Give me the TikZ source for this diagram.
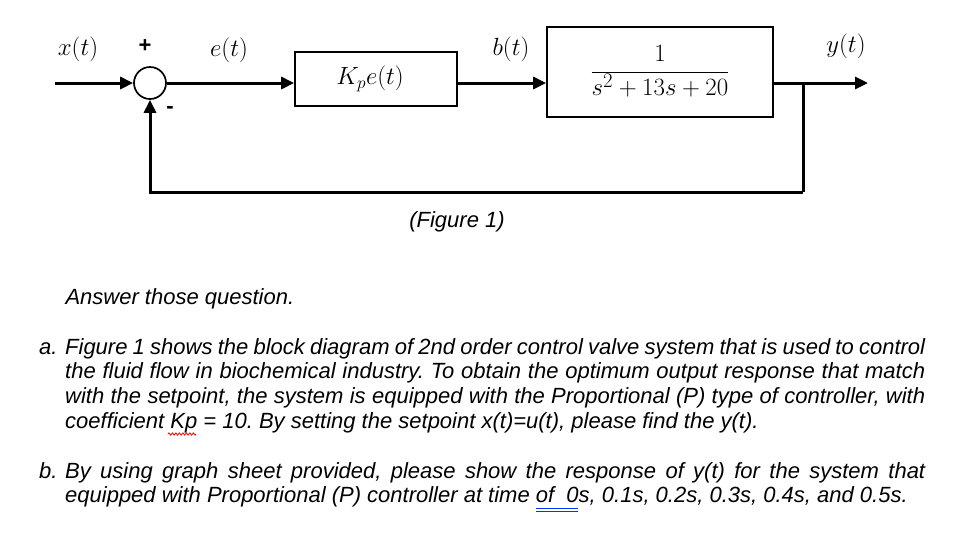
\documentclass[tikz,border=0pt]{standalone}
\usepackage{fontspec}
\setsansfont{Liberation Sans}
\usetikzlibrary{arrows.meta,decorations.pathmorphing}
\begin{document}
\begin{tikzpicture}[x=1pt,y=-1pt,
  sig/.style={line width=3pt,-{Triangle[length=13pt,width=12pt]}},
  wire/.style={line width=3pt},
  blockbox/.style={draw,line width=1.7pt,inner sep=0pt},
  mlabel/.style={font=\fontsize{24}{28}\selectfont},
  body/.style={font=\sffamily\itshape\fontsize{22}{24.7}\selectfont\frenchspacing}]
\useasboundingbox (0,0) rectangle (971,558);
% blocks
\node[draw,circle,line width=1.7pt,minimum size=32pt,inner sep=0pt] (sum) at (150,83) {};
\node[blockbox,minimum width=162pt,minimum height=54pt] (kp) at (376,79) {};
\node[font=\fontsize{25}{28}\selectfont] (kptext) at (370,79) {$K_p e(t)$};
\node[blockbox,minimum width=226pt,minimum height=90pt] (tf) at (660,72) {};
\node[font=\fontsize{28}{32}\selectfont] (tftext) at (660,71) {$\displaystyle\frac{1}{s^2+13s+20}$};
\coordinate (in) at (55,83);
\coordinate (out) at (868,83);
\coordinate (branch) at (803,83);
\coordinate (bot) at (803,192);
% connectors
\draw[sig] (in) -- (sum.west);
\draw[sig] (sum.east) -- (kp.west |- sum.east);
\draw[sig] (kp.east |- sum.east) -- (tf.west |- sum.east);
\draw[sig] (tf.east |- sum.east) -- (out);
\draw[wire] (branch) -- (bot);
\draw[sig] (bot) -- (bot -| sum.south) -- (sum.south);
% labels
\node[mlabel] (xl) at (78,49) {$x(t)$};
\node[font=\sffamily\bfseries\fontsize{22}{22}\selectfont] (plus) at (145,46) {+};
\node[font=\sffamily\bfseries\fontsize{22}{22}\selectfont] (minus) at (170,110) {-};
\node[mlabel] (el) at (229,50) {$e(t)$};
\node[mlabel] (bl) at (511,49) {$b(t)$};
\node[mlabel] (yl) at (846,46) {$y(t)$};
% text
\node[body] (fig) at (457,222) {(Figure 1)};
\node[body,anchor=west] (ans) at (62,299) {Answer those question.};
\node[body,anchor=north west,text width=886pt,align=justify,inner sep=0pt] (qa) at (39,338)
 {\hangindent=26pt\hangafter=1\noindent\makebox[26pt][l]{a.}Figure 1 shows the block diagram of 2nd order control valve system that is used to control\linebreak
 the fluid flow in biochemical industry. To obtain the optimum output response that match\linebreak
 with the setpoint, the system is equipped with the Proportional (P) type of controller, with\linebreak
 coefficient Kp = 10. By setting the setpoint x(t)=u(t), please find the y(t).\par};
\node[body,anchor=north west,text width=886pt,align=justify,inner sep=0pt] (qb) at (39,462)
 {\hangindent=26pt\hangafter=1\noindent\makebox[26pt][l]{b.}By using graph sheet provided, please show the response of y(t) for the system that\linebreak
 equipped with Proportional (P) controller at time of\ \ 0s, 0.1s, 0.2s, 0.3s, 0.4s, and 0.5s.\par};
% spell-check marks
\draw[red,line width=0.8pt,decorate,decoration={zigzag,amplitude=1.1pt,segment length=3.5pt}] (168,434) -- (196,434);
\draw[blue!80!cyan,line width=0.9pt] (536,508) -- (578,508) (536,511) -- (578,511);
\end{tikzpicture}
\end{document}
